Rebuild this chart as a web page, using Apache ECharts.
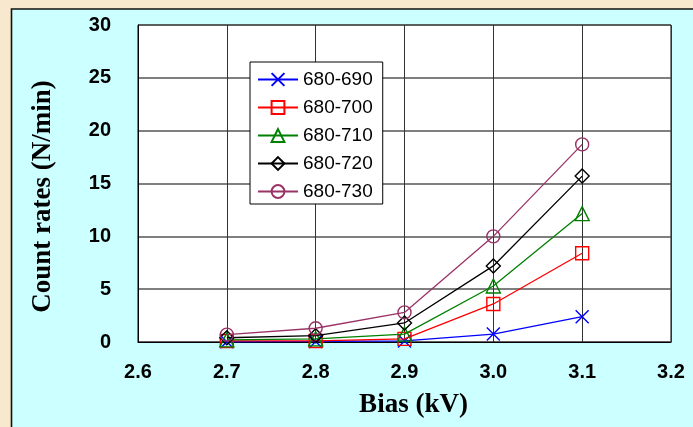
<!DOCTYPE html>
<html>
<head>
<meta charset="utf-8">
<script src="https://cdn.jsdelivr.net/npm/echarts@6/dist/echarts.min.js"></script>
<style>
html,body{margin:0;padding:0;background:#F8E8CD;}
#c{width:693px;height:427px;}
</style>
</head>
<body>
<div id="c"></div>
<script>
const biasValues = [2.7, 2.8, 2.9, 3.0, 3.1];
const seriesNames = ['680-690', '680-700', '680-710', '680-720', '680-730'];
const s680_690 = [0.02, 0.05, 0.1, 0.75, 2.4];
const s680_700 = [0.1, 0.1, 0.3, 3.6, 8.4];
const s680_710 = [0.2, 0.3, 0.75, 5.3, 12.15];
const s680_720 = [0.4, 0.6, 1.8, 7.2, 15.7];
const s680_730 = [0.7, 1.3, 2.8, 10.0, 18.7];
const xTicks = [2.6, 2.7, 2.8, 2.9, 3.0, 3.1, 3.2];
const yTicks = [0, 5, 10, 15, 20, 25, 30];

const allValues = [s680_690, s680_700, s680_710, s680_720, s680_730];
const colors = ['#0000FF', '#FF0000', '#008000', '#000000', '#993366'];
const symbols = [
  'path://M0,0L10,10M10,0L0,10',
  'rect',
  'triangle',
  'diamond',
  'circle'
];
const sizes = [13, 13, 14, 14, 13];

const chart = echarts.init(document.getElementById('c'), null, {renderer: 'canvas'});

const series = allValues.map((vals, i) => ({
  name: seriesNames[i],
  type: 'line',
  data: vals.map((v, j) => [biasValues[j], v]),
  symbol: symbols[i],
  symbolSize: sizes[i],
  showAllSymbol: true,
  lineStyle: {color: colors[i], width: 1.3},
  itemStyle: {color: 'rgba(0,0,0,0)', borderColor: colors[i], borderWidth: 1.4},
  emphasis: {disabled: true},
  z: 3 + i
}));

chart.setOption({
  animation: false,
  backgroundColor: 'transparent',
  graphic: [{
    type: 'rect',
    z: -10,
    silent: true,
    shape: {x: 11.5, y: 9, width: 700, height: 440},
    style: {fill: '#CCFFFF', stroke: '#111', lineWidth: 1.6}
  }],
  grid: {
    left: 138, right: 22, top: 25, bottom: 85,
    show: true, backgroundColor: '#FFFFFF', borderColor: '#000', borderWidth: 1,
    outerBoundsMode: 'none'
  },
  legend: {
    orient: 'vertical',
    left: 250, top: 62,
    backgroundColor: '#FFFFFF',
    borderColor: '#000', borderWidth: 1, borderRadius: 0,
    padding: [8, 10, 3, 7],
    itemWidth: 40, itemHeight: 16, itemGap: 9,
    selectedMode: false,
    textStyle: {fontFamily: 'Liberation Sans, Arial, sans-serif', fontSize: 19, color: '#000', lineHeight: 19, padding: [0,0,0,0]},
    data: seriesNames
  },
  xAxis: {
    type: 'value', min: 2.6, max: 3.2, interval: 0.1,
    name: 'Bias (kV)', nameLocation: 'middle', nameGap: 50,
    nameTextStyle: {fontFamily: 'Liberation Serif, Times New Roman, serif', fontWeight: 'bold', fontSize: 27, color: '#000', padding: [0, 0, 0, 18]},
    axisLine: {show: true, onZero: false, lineStyle: {color: '#000', width: 1}},
    axisTick: {show: false},
    axisLabel: {
      margin: 20, color: '#000', fontFamily: 'Liberation Sans, Arial, sans-serif', fontWeight: 'bold', fontSize: 20,
      formatter: v => {
        const t = xTicks.find(x => Math.abs(x - v) < 1e-6);
        return t === undefined ? '' : t.toFixed(1);
      }
    },
    splitLine: {show: true, lineStyle: {color: '#333', width: 1}}
  },
  yAxis: {
    type: 'value', min: 0, max: 30, interval: 5,
    name: 'Count rates (N/min)', nameLocation: 'middle', nameGap: 81,
    nameTextStyle: {fontFamily: 'Liberation Serif, Times New Roman, serif', fontWeight: 'bold', fontSize: 27, color: '#000', padding: [0, 26, 0, 0]},
    axisLine: {show: true, lineStyle: {color: '#000', width: 1}},
    axisTick: {show: false},
    axisLabel: {
      margin: 27, color: '#000', fontFamily: 'Liberation Sans, Arial, sans-serif', fontWeight: 'bold', fontSize: 20,
      formatter: v => {
        const t = yTicks.find(y => Math.abs(y - v) < 1e-6);
        return t === undefined ? '' : String(t);
      }
    },
    splitLine: {show: true, lineStyle: {color: '#555', width: 1.5}}
  },
  series: series
});
</script>
</body>
</html>
